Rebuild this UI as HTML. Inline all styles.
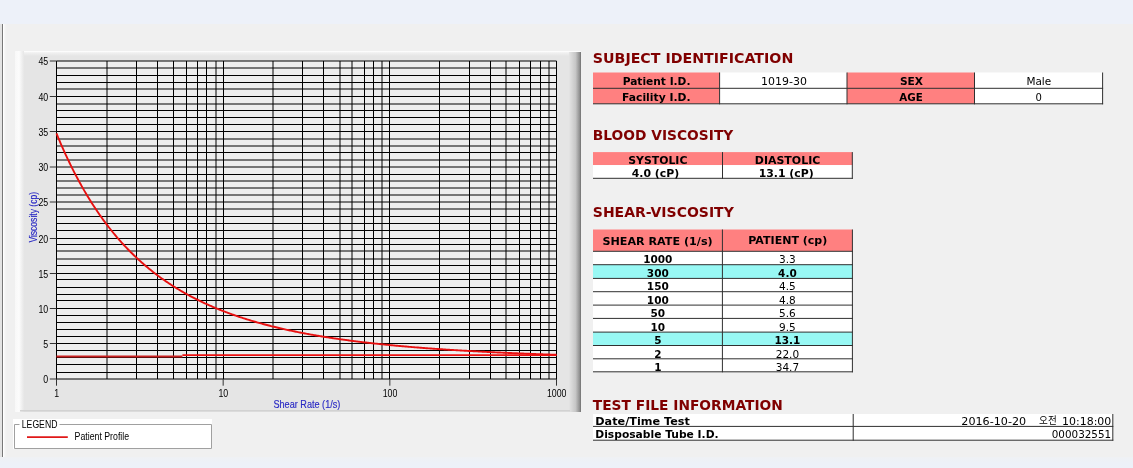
<!DOCTYPE html>
<html><head><meta charset="utf-8"><title>Blood Viscosity Report</title>
<style>
html,body{margin:0;padding:0}
body{width:1133px;height:468px;position:relative;overflow:hidden;background:#f0f0f0}
.band{position:absolute;left:0;width:1133px}
.vl{position:absolute;top:24px;height:433px}
</style></head><body>
<div class="band" style="top:0;height:24px;background:#edf1f9"></div>
<div class="band" style="top:457px;height:11px;background:linear-gradient(#eff1f4,#edf1f8 50%,#edf1f9)"></div>
<div class="vl" style="left:0;width:2px;background:#e3e3e3"></div>
<div class="vl" style="left:2px;width:1px;background:#777"></div>
<div class="vl" style="left:3px;width:4px;background:linear-gradient(90deg,#fff 0,#fff 25%,#f7f7f7 25%,#f7f7f7 50%,#f3f3f3 50%,#f3f3f3 75%,#f1f1f1 75%)"></div>
<svg width="1133" height="468" viewBox="0 0 1133 468" style="position:absolute;left:0;top:0;will-change:transform">
<defs><linearGradient id="gl" x1="0" x2="1" y1="0" y2="0"><stop offset="0" stop-color="#f8f8f8"/><stop offset="0.45" stop-color="#fcfcfc"/><stop offset="1" stop-color="#e6e6e6"/></linearGradient><linearGradient id="gr" x1="0" x2="1" y1="0" y2="0"><stop offset="0" stop-color="#e4e4e4"/><stop offset="0.55" stop-color="#c6c6c6"/><stop offset="0.92" stop-color="#8a8a8a"/><stop offset="1" stop-color="#6c6c6c"/></linearGradient><linearGradient id="gt" x1="0" x2="0" y1="0" y2="1"><stop offset="0" stop-color="#fbfbfb"/><stop offset="0.4" stop-color="#f0f0f0"/><stop offset="1" stop-color="#e5e5e5"/></linearGradient></defs>
<rect x="15" y="51" width="566" height="361" fill="#e5e5e5"/>
<rect x="15" y="51" width="566" height="5" fill="url(#gt)"/>
<rect x="15" y="51" width="565" height="1" fill="#fcfcfc"/>
<rect x="15" y="51" width="9" height="361" fill="url(#gl)"/>
<rect x="569" y="52" width="12" height="360" fill="url(#gr)"/>
<rect x="20" y="410" width="550" height="1.5" fill="#d2d2d2"/>
<rect x="56.5" y="61.0" width="500.0" height="318.0" fill="#eeeeee"/>
<path d="M56.50 379.00H556.50M56.50 372.50H556.50M56.50 364.50H556.50M56.50 357.50H556.50M56.50 350.50H556.50M56.50 343.50H556.50M56.50 336.50H556.50M56.50 329.50H556.50M56.50 322.50H556.50M56.50 315.50H556.50M56.50 308.50H556.50M56.50 300.50H556.50M56.50 294.50H556.50M56.50 287.50H556.50M56.50 279.50H556.50M56.50 273.50H556.50M56.50 265.50H556.50M56.50 259.00H556.50M56.50 251.00H556.50M56.50 244.50H556.50M56.50 238.50H556.50M56.50 230.50H556.50M56.50 223.50H556.50M56.50 216.50H556.50M56.50 209.00H556.50M56.50 202.00H556.50M56.50 195.00H556.50M56.50 188.00H556.50M56.50 181.00H556.50M56.50 174.50H556.50M56.50 167.00H556.50M56.50 160.00H556.50M56.50 152.50H556.50M56.50 146.00H556.50M56.50 139.00H556.50M56.50 131.50H556.50M56.50 124.50H556.50M56.50 117.50H556.50M56.50 110.50H556.50M56.50 104.00H556.50M56.50 96.50H556.50M56.50 89.00H556.50M56.50 82.50H556.50M56.50 75.50H556.50M56.50 68.00H556.50M56.50 61.00H556.50M56.50 61.00V379.00M107.00 61.00V379.00M136.50 61.00V379.00M157.50 61.00V379.00M173.50 61.00V379.00M186.50 61.00V379.00M197.50 61.00V379.00M206.50 61.00V379.00M216.00 61.00V379.00M223.50 61.00V379.00M273.00 61.00V379.00M302.50 61.00V379.00M323.50 61.00V379.00M340.00 61.00V379.00M352.00 61.00V379.00M364.50 61.00V379.00M373.50 61.00V379.00M382.00 61.00V379.00M389.50 61.00V379.00M439.50 61.00V379.00M469.50 61.00V379.00M490.50 61.00V379.00M506.00 61.00V379.00M519.50 61.00V379.00M530.50 61.00V379.00M540.50 61.00V379.00M549.00 61.00V379.00M556.50 61.00V379.00" stroke="#000" stroke-width="1" fill="none"/>
<path d="M49.8 379.00H56.50M49.8 343.50H56.50M49.8 308.50H56.50M49.8 273.50H56.50M49.8 238.50H56.50M49.8 202.00H56.50M49.8 167.00H56.50M49.8 131.50H56.50M49.8 96.50H56.50M49.8 61.00H56.50M56.50 379.00V385.7M223.17 379.00V385.7M389.83 379.00V385.7M556.50 379.00V385.7" stroke="#333" stroke-width="1" fill="none"/>
<text x="48.2" y="383.10" text-anchor="end" font-family="Liberation Sans, Arial, sans-serif" font-size="10.3" textLength="4.90" lengthAdjust="spacingAndGlyphs">0</text>
<text x="48.2" y="347.60" text-anchor="end" font-family="Liberation Sans, Arial, sans-serif" font-size="10.3" textLength="4.90" lengthAdjust="spacingAndGlyphs">5</text>
<text x="48.2" y="312.60" text-anchor="end" font-family="Liberation Sans, Arial, sans-serif" font-size="10.3" textLength="9.80" lengthAdjust="spacingAndGlyphs">10</text>
<text x="48.2" y="277.60" text-anchor="end" font-family="Liberation Sans, Arial, sans-serif" font-size="10.3" textLength="9.80" lengthAdjust="spacingAndGlyphs">15</text>
<text x="48.2" y="242.60" text-anchor="end" font-family="Liberation Sans, Arial, sans-serif" font-size="10.3" textLength="9.80" lengthAdjust="spacingAndGlyphs">20</text>
<text x="48.2" y="206.10" text-anchor="end" font-family="Liberation Sans, Arial, sans-serif" font-size="10.3" textLength="9.80" lengthAdjust="spacingAndGlyphs">25</text>
<text x="48.2" y="171.10" text-anchor="end" font-family="Liberation Sans, Arial, sans-serif" font-size="10.3" textLength="9.80" lengthAdjust="spacingAndGlyphs">30</text>
<text x="48.2" y="135.60" text-anchor="end" font-family="Liberation Sans, Arial, sans-serif" font-size="10.3" textLength="9.80" lengthAdjust="spacingAndGlyphs">35</text>
<text x="48.2" y="100.60" text-anchor="end" font-family="Liberation Sans, Arial, sans-serif" font-size="10.3" textLength="9.80" lengthAdjust="spacingAndGlyphs">40</text>
<text x="48.2" y="65.10" text-anchor="end" font-family="Liberation Sans, Arial, sans-serif" font-size="10.3" textLength="9.80" lengthAdjust="spacingAndGlyphs">45</text>
<text x="54.25" y="396.8" font-family="Liberation Sans, Arial, sans-serif" font-size="10.3" textLength="4.90" lengthAdjust="spacingAndGlyphs">1</text>
<text x="218.47" y="396.8" font-family="Liberation Sans, Arial, sans-serif" font-size="10.3" textLength="9.80" lengthAdjust="spacingAndGlyphs">10</text>
<text x="382.68" y="396.8" font-family="Liberation Sans, Arial, sans-serif" font-size="10.3" textLength="14.70" lengthAdjust="spacingAndGlyphs">100</text>
<text x="546.90" y="396.8" font-family="Liberation Sans, Arial, sans-serif" font-size="10.3" textLength="19.60" lengthAdjust="spacingAndGlyphs">1000</text>
<text x="273.4" y="408" font-family="Liberation Sans, Arial, sans-serif" font-size="10.6" textLength="67" lengthAdjust="spacingAndGlyphs" fill="#2828c4" stroke="#2828c4" stroke-width="0.15">Shear Rate (1/s)</text>
<text transform="translate(36.9 242.6) rotate(-90)" font-family="Liberation Sans, Arial, sans-serif" font-size="10.6" textLength="50.6" lengthAdjust="spacingAndGlyphs" fill="#2828c4" stroke="#2828c4" stroke-width="0.15">Viscosity (cp)</text>
<polyline points="56.50,133.48 57.50,135.91 58.50,138.31 59.51,140.68 60.51,143.02 61.51,145.33 62.51,147.61 63.51,149.86 64.52,152.08 65.52,154.28 66.52,156.45 67.52,158.58 68.52,160.70 69.53,162.78 70.53,164.84 71.53,166.88 72.53,168.89 73.53,170.87 74.54,172.83 75.54,174.76 76.54,176.67 77.54,178.56 78.54,180.42 79.55,182.26 80.55,184.08 81.55,185.88 82.55,187.65 83.55,189.40 84.56,191.13 85.56,192.84 86.56,194.53 87.56,196.20 88.56,197.85 89.57,199.48 90.57,201.08 91.57,202.67 92.57,204.24 93.57,205.79 94.58,207.33 95.58,208.84 96.58,210.34 97.58,211.81 98.58,213.28 99.59,214.72 100.59,216.15 101.59,217.56 102.59,218.95 103.59,220.33 104.60,221.69 105.60,223.03 106.60,224.36 107.60,225.67 108.60,226.97 109.61,228.25 110.61,229.52 111.61,230.77 112.61,232.01 113.61,233.24 114.62,234.45 115.62,235.65 116.62,236.83 117.62,238.00 118.62,239.15 119.63,240.30 120.63,241.43 121.63,242.54 122.63,243.65 123.63,244.74 124.64,245.82 125.64,246.89 126.64,247.94 127.64,248.99 128.64,250.02 129.65,251.04 130.65,252.05 131.65,253.04 132.65,254.03 133.65,255.01 134.66,255.97 135.66,256.93 136.66,257.87 137.66,258.80 138.66,259.73 139.67,260.64 140.67,261.54 141.67,262.43 142.67,263.32 143.67,264.19 144.68,265.06 145.68,265.91 146.68,266.76 147.68,267.59 148.68,268.42 149.69,269.24 150.69,270.05 151.69,270.85 152.69,271.64 153.69,272.43 154.70,273.20 155.70,273.97 156.70,274.73 157.70,275.48 158.70,276.22 159.71,276.96 160.71,277.69 161.71,278.41 162.71,279.12 163.71,279.82 164.72,280.52 165.72,281.21 166.72,281.89 167.72,282.57 168.72,283.24 169.73,283.90 170.73,284.56 171.73,285.20 172.73,285.85 173.73,286.48 174.74,287.11 175.74,287.73 176.74,288.35 177.74,288.96 178.74,289.56 179.75,290.16 180.75,290.75 181.75,291.33 182.75,291.91 183.75,292.49 184.76,293.05 185.76,293.62 186.76,294.17 187.76,294.72 188.76,295.27 189.77,295.81 190.77,296.34 191.77,296.87 192.77,297.39 193.77,297.91 194.78,298.43 195.78,298.94 196.78,299.44 197.78,299.94 198.78,300.43 199.79,300.92 200.79,301.40 201.79,301.88 202.79,302.36 203.79,302.83 204.80,303.29 205.80,303.75 206.80,304.21 207.80,304.66 208.80,305.11 209.81,305.55 210.81,305.99 211.81,306.42 212.81,306.85 213.81,307.28 214.82,307.70 215.82,308.12 216.82,308.54 217.82,308.95 218.82,309.35 219.83,309.75 220.83,310.15 221.83,310.55 222.83,310.94 223.83,311.33 224.84,311.71 225.84,312.09 226.84,312.47 227.84,312.84 228.84,313.21 229.85,313.58 230.85,313.94 231.85,314.30 232.85,314.66 233.85,315.01 234.86,315.36 235.86,315.71 236.86,316.05 237.86,316.39 238.86,316.73 239.87,317.06 240.87,317.39 241.87,317.72 242.87,318.04 243.87,318.37 244.88,318.68 245.88,319.00 246.88,319.31 247.88,319.62 248.88,319.93 249.89,320.24 250.89,320.54 251.89,320.84 252.89,321.13 253.89,321.43 254.90,321.72 255.90,322.01 256.90,322.29 257.90,322.58 258.90,322.86 259.91,323.14 260.91,323.41 261.91,323.69 262.91,323.96 263.91,324.23 264.92,324.50 265.92,324.76 266.92,325.02 267.92,325.28 268.92,325.54 269.93,325.79 270.93,326.05 271.93,326.30 272.93,326.55 273.93,326.79 274.94,327.04 275.94,327.28 276.94,327.52 277.94,327.76 278.94,327.99 279.95,328.23 280.95,328.46 281.95,328.69 282.95,328.92 283.95,329.14 284.96,329.37 285.96,329.59 286.96,329.81 287.96,330.03 288.96,330.24 289.97,330.46 290.97,330.67 291.97,330.88 292.97,331.09 293.97,331.30 294.98,331.50 295.98,331.71 296.98,331.91 297.98,332.11 298.98,332.31 299.99,332.51 300.99,332.70 301.99,332.90 302.99,333.09 303.99,333.28 305.00,333.47 306.00,333.66 307.00,333.85 308.00,334.03 309.01,334.21 310.01,334.39 311.01,334.57 312.01,334.75 313.01,334.93 314.02,335.11 315.02,335.28 316.02,335.45 317.02,335.63 318.02,335.80 319.03,335.96 320.03,336.13 321.03,336.30 322.03,336.46 323.03,336.63 324.04,336.79 325.04,336.95 326.04,337.11 327.04,337.27 328.04,337.42 329.05,337.58 330.05,337.73 331.05,337.89 332.05,338.04 333.05,338.19 334.06,338.34 335.06,338.49 336.06,338.63 337.06,338.78 338.06,338.93 339.07,339.07 340.07,339.21 341.07,339.35 342.07,339.49 343.07,339.63 344.08,339.77 345.08,339.91 346.08,340.04 347.08,340.18 348.08,340.31 349.09,340.45 350.09,340.58 351.09,340.71 352.09,340.84 353.09,340.97 354.10,341.10 355.10,341.22 356.10,341.35 357.10,341.47 358.10,341.60 359.11,341.72 360.11,341.84 361.11,341.96 362.11,342.08 363.11,342.20 364.12,342.32 365.12,342.44 366.12,342.56 367.12,342.67 368.12,342.79 369.13,342.90 370.13,343.01 371.13,343.13 372.13,343.24 373.13,343.35 374.14,343.46 375.14,343.57 376.14,343.67 377.14,343.78 378.14,343.89 379.15,343.99 380.15,344.10 381.15,344.20 382.15,344.31 383.15,344.41 384.16,344.51 385.16,344.61 386.16,344.71 387.16,344.81 388.16,344.91 389.17,345.01 390.17,345.11 391.17,345.20 392.17,345.30 393.17,345.39 394.18,345.49 395.18,345.58 396.18,345.68 397.18,345.77 398.18,345.86 399.19,345.95 400.19,346.04 401.19,346.13 402.19,346.22 403.19,346.31 404.20,346.40 405.20,346.49 406.20,346.57 407.20,346.66 408.20,346.74 409.21,346.83 410.21,346.91 411.21,347.00 412.21,347.08 413.21,347.16 414.22,347.24 415.22,347.33 416.22,347.41 417.22,347.49 418.22,347.57 419.23,347.65 420.23,347.72 421.23,347.80 422.23,347.88 423.23,347.96 424.24,348.03 425.24,348.11 426.24,348.18 427.24,348.26 428.24,348.33 429.25,348.41 430.25,348.48 431.25,348.55 432.25,348.63 433.25,348.70 434.26,348.77 435.26,348.84 436.26,348.91 437.26,348.98 438.26,349.05 439.27,349.12 440.27,349.19 441.27,349.25 442.27,349.32 443.27,349.39 444.28,349.45 445.28,349.52 446.28,349.59 447.28,349.65 448.28,349.72 449.29,349.78 450.29,349.84 451.29,349.91 452.29,349.97 453.29,350.03 454.30,350.10 455.30,350.16 456.30,350.22 457.30,350.28 458.30,350.34 459.31,350.40 460.31,350.46 461.31,350.52 462.31,350.58 463.31,350.64 464.32,350.70 465.32,350.75 466.32,350.81 467.32,350.87 468.32,350.93 469.33,350.98 470.33,351.04 471.33,351.09 472.33,351.15 473.33,351.20 474.34,351.26 475.34,351.31 476.34,351.37 477.34,351.42 478.34,351.47 479.35,351.53 480.35,351.58 481.35,351.63 482.35,351.68 483.35,351.74 484.36,351.79 485.36,351.84 486.36,351.89 487.36,351.94 488.36,351.99 489.37,352.04 490.37,352.09 491.37,352.14 492.37,352.19 493.37,352.23 494.38,352.28 495.38,352.33 496.38,352.38 497.38,352.43 498.38,352.47 499.39,352.52 500.39,352.57 501.39,352.61 502.39,352.66 503.39,352.71 504.40,352.75 505.40,352.80 506.40,352.84 507.40,352.89 508.40,352.93 509.41,352.97 510.41,353.02 511.41,353.06 512.41,353.11 513.41,353.15 514.42,353.19 515.42,353.23 516.42,353.28 517.42,353.32 518.42,353.36 519.43,353.40 520.43,353.45 521.43,353.49 522.43,353.53 523.43,353.57 524.44,353.61 525.44,353.65 526.44,353.69 527.44,353.73 528.44,353.77 529.45,353.81 530.45,353.85 531.45,353.89 532.45,353.93 533.45,353.97 534.46,354.00 535.46,354.04 536.46,354.08 537.46,354.12 538.46,354.16 539.47,354.19 540.47,354.23 541.47,354.27 542.47,354.31 543.47,354.34 544.48,354.38 545.48,354.42 546.48,354.45 547.48,354.49 548.48,354.53 549.49,354.56 550.49,354.60 551.49,354.63 552.49,354.67 553.49,354.70 554.50,354.74 555.50,354.77 556.50,354.81" fill="none" stroke="#e81010" stroke-width="1.9" stroke-linejoin="round"/>
<path d="M56.50 356.5H182.4" stroke="#c82020" stroke-width="2.2" fill="none"/>
<path d="M182.4 355.2H556.50" stroke="#ee1010" stroke-width="1.8" fill="none"/>
<rect x="13" y="419" width="199" height="30" fill="#fff"/>
<path d="M14.5 448.5V424.5H19.5M59.5 424.5H211.5V448.5H14.5" stroke="#a0a0a0" stroke-width="1" fill="none"/>
<text x="21.8" y="427.9" font-family="Liberation Sans, Arial, sans-serif" font-size="11.2" textLength="35.6" lengthAdjust="spacingAndGlyphs">LEGEND</text>
<path d="M27 437.2H67.8" stroke="#e01818" stroke-width="1.8"/>
<text x="74.6" y="440.2" font-family="Liberation Sans, Arial, sans-serif" font-size="10.2" textLength="54.5" lengthAdjust="spacingAndGlyphs">Patient Profile</text>
<text x="592.8" y="62.8" font-family="DejaVu Sans, Liberation Sans, sans-serif" font-weight="bold" font-size="14" fill="#800000" textLength="200.5" lengthAdjust="spacingAndGlyphs">SUBJECT IDENTIFICATION</text>
<rect x="593" y="72.5" width="126.60000000000002" height="31.299999999999997" fill="#ff8080"/>
<rect x="719.6" y="72.5" width="127.39999999999998" height="31.299999999999997" fill="#fff"/>
<rect x="847" y="72.5" width="127.5" height="31.299999999999997" fill="#ff8080"/>
<rect x="974.5" y="72.5" width="128.0999999999999" height="31.299999999999997" fill="#fff"/>
<rect x="593" y="87.8" width="510.0999999999999" height="1" fill="#303030"/>
<rect x="593" y="103.3" width="510.0999999999999" height="1" fill="#303030"/>
<rect x="719.1" y="72.5" width="1" height="31.799999999999997" fill="#303030"/>
<rect x="846.5" y="72.5" width="1" height="31.799999999999997" fill="#303030"/>
<rect x="974.0" y="72.5" width="1" height="31.799999999999997" fill="#303030"/>
<rect x="1102.1" y="72.5" width="1" height="31.799999999999997" fill="#303030"/>
<text x="656.6" y="84.7" text-anchor="middle" font-family="DejaVu Sans, Liberation Sans, sans-serif" font-weight="bold" font-size="9.6" textLength="67.8" lengthAdjust="spacingAndGlyphs">Patient I.D.</text>
<text x="784.0" y="85.0" text-anchor="middle" font-family="DejaVu Sans, Liberation Sans, sans-serif" font-size="10" textLength="45.8" lengthAdjust="spacingAndGlyphs">1019-30</text>
<text x="911.5" y="84.7" text-anchor="middle" font-family="DejaVu Sans, Liberation Sans, sans-serif" font-weight="bold" font-size="9.6" textLength="23.2" lengthAdjust="spacingAndGlyphs">SEX</text>
<text x="1038.8" y="85.0" text-anchor="middle" font-family="DejaVu Sans, Liberation Sans, sans-serif" font-size="10" textLength="24.8" lengthAdjust="spacingAndGlyphs">Male</text>
<text x="656.3" y="100.5" text-anchor="middle" font-family="DejaVu Sans, Liberation Sans, sans-serif" font-weight="bold" font-size="9.6" textLength="68.5" lengthAdjust="spacingAndGlyphs">Facility I.D.</text>
<text x="911.0" y="100.7" text-anchor="middle" font-family="DejaVu Sans, Liberation Sans, sans-serif" font-weight="bold" font-size="9.6" textLength="23.5" lengthAdjust="spacingAndGlyphs">AGE</text>
<text x="1038.8" y="100.7" text-anchor="middle" font-family="DejaVu Sans, Liberation Sans, sans-serif" font-size="10">0</text>
<text x="592.8" y="139.8" font-family="DejaVu Sans, Liberation Sans, sans-serif" font-weight="bold" font-size="14" fill="#800000" textLength="140.5" lengthAdjust="spacingAndGlyphs">BLOOD VISCOSITY</text>
<rect x="593" y="152.1" width="259.29999999999995" height="13.0" fill="#ff8080"/>
<rect x="593" y="165.1" width="259.29999999999995" height="13.200000000000017" fill="#fff"/>
<rect x="593" y="177.8" width="259.79999999999995" height="1" fill="#303030"/>
<rect x="722.0" y="152.1" width="1" height="26.700000000000017" fill="#303030"/>
<rect x="851.8" y="152.1" width="1" height="26.700000000000017" fill="#303030"/>
<text x="657.8" y="163.8" text-anchor="middle" font-family="DejaVu Sans, Liberation Sans, sans-serif" font-weight="bold" font-size="9.6" textLength="59.2" lengthAdjust="spacingAndGlyphs">SYSTOLIC</text>
<text x="787.55" y="163.9" text-anchor="middle" font-family="DejaVu Sans, Liberation Sans, sans-serif" font-weight="bold" font-size="9.6" textLength="65.5" lengthAdjust="spacingAndGlyphs">DIASTOLIC</text>
<text x="655.5" y="176.9" text-anchor="middle" font-family="DejaVu Sans, Liberation Sans, sans-serif" font-weight="bold" font-size="9.6" textLength="47.5" lengthAdjust="spacingAndGlyphs">4.0 (cP)</text>
<text x="786.15" y="176.7" text-anchor="middle" font-family="DejaVu Sans, Liberation Sans, sans-serif" font-weight="bold" font-size="9.6" textLength="55" lengthAdjust="spacingAndGlyphs">13.1 (cP)</text>
<text x="592.8" y="216.7" font-family="DejaVu Sans, Liberation Sans, sans-serif" font-weight="bold" font-size="14" fill="#800000" textLength="141" lengthAdjust="spacingAndGlyphs">SHEAR-VISCOSITY</text>
<rect x="593" y="229.5" width="259.4" height="21.80000000000001" fill="#ff8080"/>
<rect x="593" y="251.3" width="259.4" height="13.399999999999977" fill="#fff"/>
<rect x="593" y="264.7" width="259.4" height="13.699999999999989" fill="#98f8f4"/>
<rect x="593" y="278.4" width="259.4" height="13.300000000000011" fill="#fff"/>
<rect x="593" y="291.7" width="259.4" height="13.400000000000034" fill="#fff"/>
<rect x="593" y="305.1" width="259.4" height="13.299999999999955" fill="#fff"/>
<rect x="593" y="318.4" width="259.4" height="13.700000000000045" fill="#fff"/>
<rect x="593" y="332.1" width="259.4" height="13.399999999999977" fill="#98f8f4"/>
<rect x="593" y="345.5" width="259.4" height="13.300000000000011" fill="#fff"/>
<rect x="593" y="358.8" width="259.4" height="13.0" fill="#fff"/>
<rect x="593" y="250.8" width="259.9" height="1" fill="#303030"/>
<rect x="593" y="264.2" width="259.9" height="1" fill="#303030"/>
<rect x="593" y="277.9" width="259.9" height="1" fill="#303030"/>
<rect x="593" y="291.2" width="259.9" height="1" fill="#303030"/>
<rect x="593" y="304.6" width="259.9" height="1" fill="#303030"/>
<rect x="593" y="317.9" width="259.9" height="1" fill="#303030"/>
<rect x="593" y="331.6" width="259.9" height="1" fill="#303030"/>
<rect x="593" y="345.0" width="259.9" height="1" fill="#303030"/>
<rect x="593" y="358.3" width="259.9" height="1" fill="#303030"/>
<rect x="593" y="371.3" width="259.9" height="1" fill="#303030"/>
<rect x="721.9" y="229.5" width="1" height="142.8" fill="#303030"/>
<rect x="851.9" y="229.5" width="1" height="142.8" fill="#303030"/>
<text x="657.55" y="244.6" text-anchor="middle" font-family="DejaVu Sans, Liberation Sans, sans-serif" font-weight="bold" font-size="10" textLength="110.2" lengthAdjust="spacingAndGlyphs">SHEAR RATE (1/s)</text>
<text x="787.8" y="244.3" text-anchor="middle" font-family="DejaVu Sans, Liberation Sans, sans-serif" font-weight="bold" font-size="10" textLength="79" lengthAdjust="spacingAndGlyphs">PATIENT (cp)</text>
<text x="657.8" y="263.40" text-anchor="middle" font-family="DejaVu Sans, Liberation Sans, sans-serif" font-weight="bold" font-size="10" textLength="29.22" lengthAdjust="spacingAndGlyphs">1000</text>
<text x="787.4" y="263.40" text-anchor="middle" font-family="DejaVu Sans, Liberation Sans, sans-serif" font-size="10" textLength="16.7" lengthAdjust="spacingAndGlyphs">3.3</text>
<text x="657.8" y="277.10" text-anchor="middle" font-family="DejaVu Sans, Liberation Sans, sans-serif" font-weight="bold" font-size="10" textLength="21.92" lengthAdjust="spacingAndGlyphs">300</text>
<text x="787.4" y="277.10" text-anchor="middle" font-family="DejaVu Sans, Liberation Sans, sans-serif" font-weight="bold" font-size="10" textLength="18.6" lengthAdjust="spacingAndGlyphs">4.0</text>
<text x="657.8" y="290.40" text-anchor="middle" font-family="DejaVu Sans, Liberation Sans, sans-serif" font-weight="bold" font-size="10" textLength="21.92" lengthAdjust="spacingAndGlyphs">150</text>
<text x="787.4" y="290.40" text-anchor="middle" font-family="DejaVu Sans, Liberation Sans, sans-serif" font-size="10" textLength="16.7" lengthAdjust="spacingAndGlyphs">4.5</text>
<text x="657.8" y="303.80" text-anchor="middle" font-family="DejaVu Sans, Liberation Sans, sans-serif" font-weight="bold" font-size="10" textLength="21.92" lengthAdjust="spacingAndGlyphs">100</text>
<text x="787.4" y="303.80" text-anchor="middle" font-family="DejaVu Sans, Liberation Sans, sans-serif" font-size="10" textLength="16.7" lengthAdjust="spacingAndGlyphs">4.8</text>
<text x="657.8" y="317.10" text-anchor="middle" font-family="DejaVu Sans, Liberation Sans, sans-serif" font-weight="bold" font-size="10" textLength="14.61" lengthAdjust="spacingAndGlyphs">50</text>
<text x="787.4" y="317.10" text-anchor="middle" font-family="DejaVu Sans, Liberation Sans, sans-serif" font-size="10" textLength="16.7" lengthAdjust="spacingAndGlyphs">5.6</text>
<text x="657.8" y="330.80" text-anchor="middle" font-family="DejaVu Sans, Liberation Sans, sans-serif" font-weight="bold" font-size="10" textLength="14.61" lengthAdjust="spacingAndGlyphs">10</text>
<text x="787.4" y="330.80" text-anchor="middle" font-family="DejaVu Sans, Liberation Sans, sans-serif" font-size="10" textLength="16.7" lengthAdjust="spacingAndGlyphs">9.5</text>
<text x="657.8" y="344.20" text-anchor="middle" font-family="DejaVu Sans, Liberation Sans, sans-serif" font-weight="bold" font-size="10" textLength="7.31" lengthAdjust="spacingAndGlyphs">5</text>
<text x="787.4" y="344.20" text-anchor="middle" font-family="DejaVu Sans, Liberation Sans, sans-serif" font-weight="bold" font-size="10" textLength="25.91" lengthAdjust="spacingAndGlyphs">13.1</text>
<text x="657.8" y="357.50" text-anchor="middle" font-family="DejaVu Sans, Liberation Sans, sans-serif" font-weight="bold" font-size="10" textLength="7.31" lengthAdjust="spacingAndGlyphs">2</text>
<text x="787.4" y="357.50" text-anchor="middle" font-family="DejaVu Sans, Liberation Sans, sans-serif" font-size="10" textLength="23.38" lengthAdjust="spacingAndGlyphs">22.0</text>
<text x="657.8" y="370.50" text-anchor="middle" font-family="DejaVu Sans, Liberation Sans, sans-serif" font-weight="bold" font-size="10" textLength="7.31" lengthAdjust="spacingAndGlyphs">1</text>
<text x="787.4" y="370.50" text-anchor="middle" font-family="DejaVu Sans, Liberation Sans, sans-serif" font-size="10" textLength="23.38" lengthAdjust="spacingAndGlyphs">34.7</text>
<text x="592.8" y="410.3" font-family="DejaVu Sans, Liberation Sans, sans-serif" font-weight="bold" font-size="14" fill="#800000" textLength="190" lengthAdjust="spacingAndGlyphs">TEST FILE INFORMATION</text>
<rect x="593" y="414.0" width="519.8" height="26.19999999999999" fill="#fff"/>
<rect x="593" y="425.9" width="520.3" height="1" fill="#303030"/>
<rect x="593" y="439.7" width="520.3" height="1" fill="#303030"/>
<rect x="852.7" y="414.0" width="1" height="26.69999999999999" fill="#303030"/>
<rect x="1112.3" y="414.0" width="1" height="26.69999999999999" fill="#303030"/>
<text x="595.3" y="425.0" text-anchor="start" font-family="DejaVu Sans, Liberation Sans, sans-serif" font-weight="bold" font-size="9.6" textLength="94.6" lengthAdjust="spacingAndGlyphs">Date/Time Test</text>
<text x="595.3" y="438.2" text-anchor="start" font-family="DejaVu Sans, Liberation Sans, sans-serif" font-weight="bold" font-size="9.6" textLength="123.3" lengthAdjust="spacingAndGlyphs">Disposable Tube I.D.</text>
<text x="961.3" y="424.6" text-anchor="start" font-family="DejaVu Sans, Liberation Sans, sans-serif" font-size="10.6" textLength="64.8" lengthAdjust="spacingAndGlyphs">2016-10-20</text>
<text x="1039.1" y="423.6" font-family="Liberation Sans, Noto Sans CJK KR, sans-serif" font-size="9.8" textLength="17.6" lengthAdjust="spacingAndGlyphs">오전</text>
<text x="1062.1" y="424.6" text-anchor="start" font-family="DejaVu Sans, Liberation Sans, sans-serif" font-size="10.6" textLength="49.2" lengthAdjust="spacingAndGlyphs">10:18:00</text>
<text x="1111.2" y="437.9" text-anchor="end" font-family="DejaVu Sans, Liberation Sans, sans-serif" font-size="10.6" textLength="59.5" lengthAdjust="spacingAndGlyphs">000032551</text>
</svg>
</body></html>
